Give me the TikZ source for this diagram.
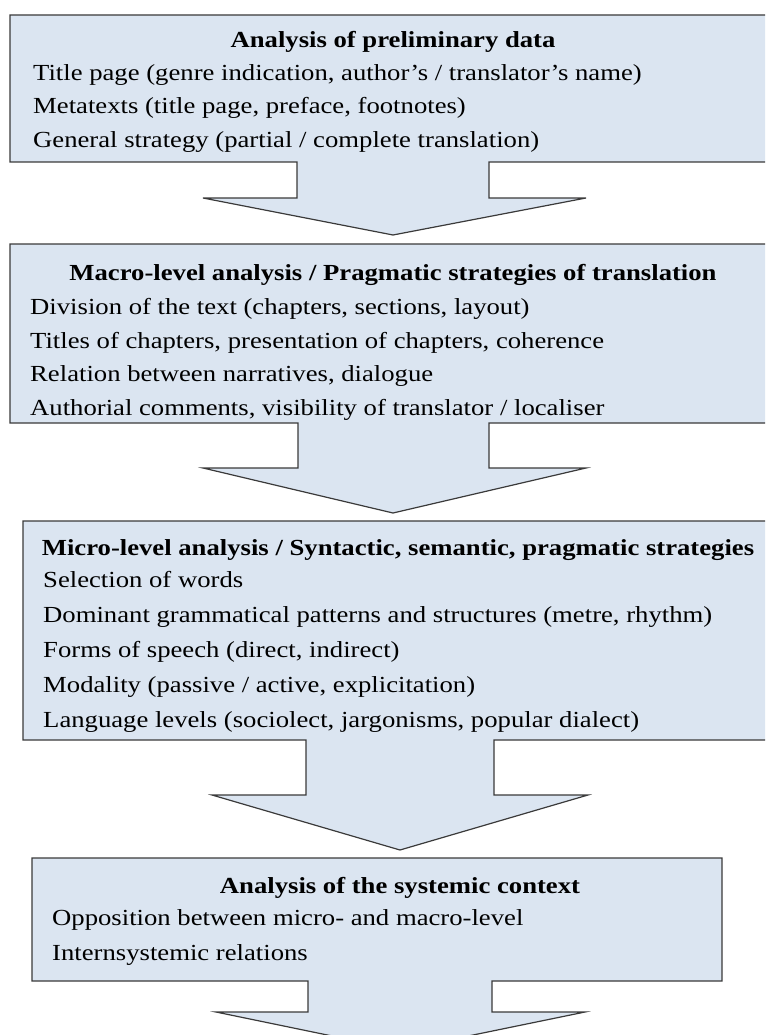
\documentclass[tikz,border=0pt]{standalone}
\usepackage{fontspec}
\setmainfont{Liberation Serif}[FakeStretch=1.16]
\definecolor{boxfill}{HTML}{DBE5F1}
\definecolor{boxline}{HTML}{3A3A3A}
\begin{document}
\begin{tikzpicture}[x=1pt,y=-1pt,
  callout/.style={fill=boxfill,draw=boxline,line width=1.2pt,line join=miter},
  heading/.style={anchor=base,inner sep=0pt,font=\fontsize{23}{27}\selectfont\bfseries},
  item/.style={anchor=base west,inner sep=0pt,font=\fontsize{23}{27}\selectfont}]
\useasboundingbox (0,0) rectangle (765,1035);
\clip (0,0) rectangle (765,1035);

% stage 1
\draw[callout] (10,15) -- (780,15) -- (780,162) -- (489,162) -- (489,198) -- (586,198)
  -- (393,235) -- (203,198) -- (297,198) -- (297,162) -- (10,162) -- cycle;
\node[heading] (h1) at (393,48) {Analysis of preliminary data};
\node[item] (a1) at (33,81) {Title page (genre indication, author’s / translator’s name)};
\node[item] (a2) at (33,114) {Metatexts (title page, preface, footnotes)};
\node[item] (a3) at (33,148) {General strategy (partial / complete translation)};

% stage 2
\draw[callout] (10,244) -- (780,244) -- (780,423) -- (489,423) -- (489,468) -- (586,468)
  -- (393,513) -- (203,468) -- (298,468) -- (298,423) -- (10,423) -- cycle;
\node[heading] (h2) at (393,280) {Macro-level analysis / Pragmatic strategies of translation};
\node[item] (b1) at (30,314) {Division of the text (chapters, sections, layout)};
\node[item] (b2) at (30,348) {Titles of chapters, presentation of chapters, coherence};
\node[item] (b3) at (30,381) {Relation between narratives, dialogue};
\node[item] (b4) at (30,415) {Authorial comments, visibility of translator / localiser};

% stage 3
\draw[callout] (23,521) -- (780,521) -- (780,740) -- (494,740) -- (494,795) -- (588,795)
  -- (400,850) -- (212,795) -- (306,795) -- (306,740) -- (23,740) -- cycle;
\node[heading] (h3) at (398,555) {Micro-level analysis / Syntactic, semantic, pragmatic strategies};
\node[item] (c1) at (43,587) {Selection of words};
\node[item] (c2) at (43,622) {Dominant grammatical patterns and structures (metre, rhythm)};
\node[item] (c3) at (43,657) {Forms of speech (direct, indirect)};
\node[item] (c4) at (43,692) {Modality (passive / active, explicitation)};
\node[item] (c5) at (43,727) {Language levels (sociolect, jargonisms, popular dialect)};

% stage 4
\draw[callout] (32,858) -- (722,858) -- (722,981) -- (492,981) -- (492,1012) -- (585,1012)
  -- (400,1050) -- (216,1012) -- (308,1012) -- (308,981) -- (32,981) -- cycle;
\node[heading] (h4) at (400,893) {Analysis of the systemic context};
\node[item] (d1) at (52,925) {Opposition between micro- and macro-level};
\node[item] (d2) at (52,960) {Internsystemic relations};
\end{tikzpicture}
\end{document}
